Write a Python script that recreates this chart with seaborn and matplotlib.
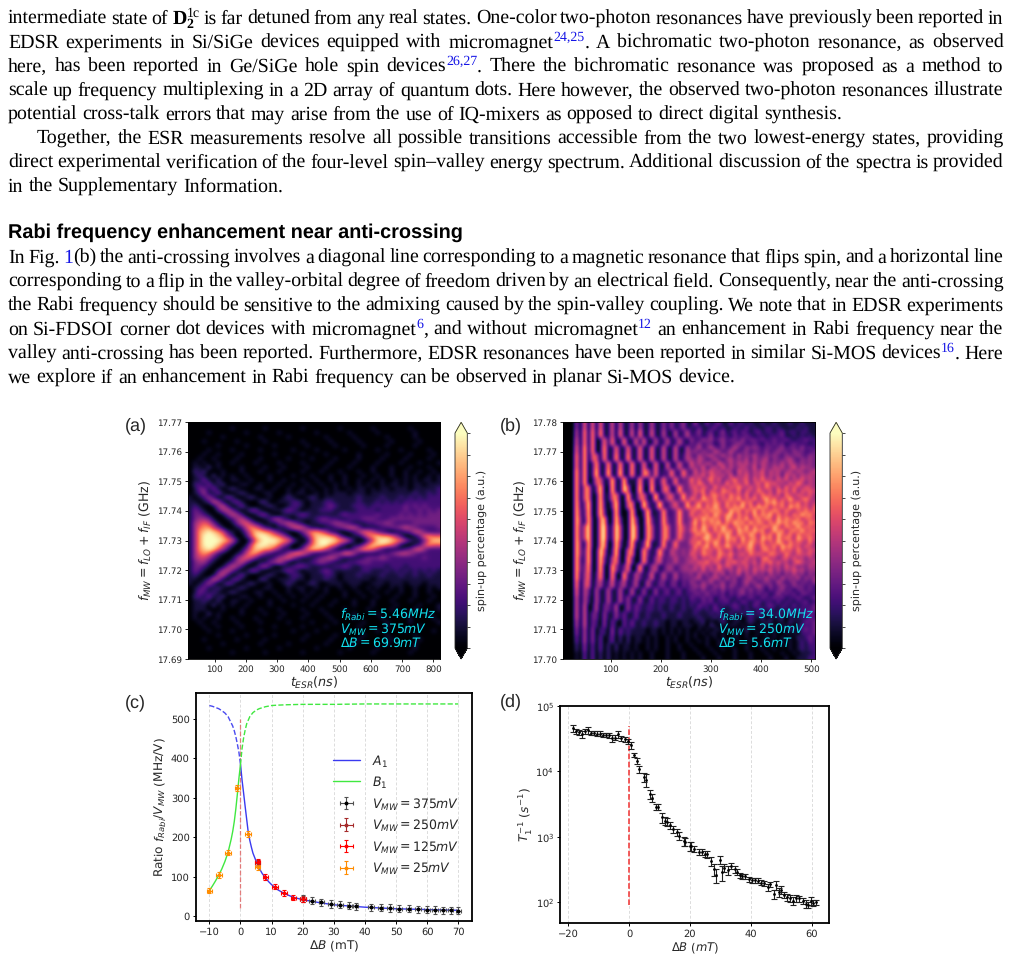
import re
import numpy as np
import matplotlib
matplotlib.use("Agg")
import matplotlib.pyplot as plt
import seaborn as sns

W, H = 1011, 961
sns.set_style("white")
plt.rcParams["font.family"] = ["DejaVu Sans"]
plt.rcParams["mathtext.fontset"] = "dejavusans"
plt.rcParams["text.hinting"] = "no_hinting"

# ---- Page text -------------------------------------------------------------
BLUE = "#1414e6"
PLAIN, SUP, SUB_BOLD, BOLD = "plain", "sup", "subbold", "bold"
body_lines = [
    (23.5, 8, True, [(r"intermediate state of ", PLAIN), ("D", BOLD), ("2", SUB_BOLD), ("1c", SUP),
                   (" is far detuned from any real states. One-color two-photon resonances have previously been reported in", PLAIN)]),
    (47.5, 8, True, [("EDSR experiments in Si/SiGe devices equipped with micromagnet", PLAIN), ("24,25", SUP),
                   (". A bichromatic two-photon resonance, as observed", PLAIN)]),
    (71.5, 8, True, [("here, has been reported in Ge/SiGe hole spin devices", PLAIN), ("26,27", SUP),
                   (". There the bichromatic resonance was proposed as a method to", PLAIN)]),
    (95.5, 8, True, [("scale up frequency multiplexing in a 2D array of quantum dots. Here however, the observed two-photon resonances illustrate", PLAIN)]),
    (119.5, 8, False, [("potential cross-talk errors that may arise from the use of IQ-mixers as opposed to direct digital synthesis.", PLAIN)]),
    (143.5, 37, True, [("Together, the ESR measurements resolve all possible transitions accessible from the two lowest-energy states, providing", PLAIN)]),
    (167.5, 8, True, [("direct experimental verification of the four-level spin\u2013valley energy spectrum. Additional discussion of the spectra is provided", PLAIN)]),
    (191.5, 8, False, [("in the Supplementary Information.", PLAIN)]),
    (263, 8, True, [("In Fig. ", PLAIN), ("1", "link"), ("(b) the anti-crossing involves a diagonal line corresponding to a magnetic resonance that flips spin, and a horizontal line", PLAIN)]),
    (287, 8, True, [("corresponding to a flip in the valley-orbital degree of freedom driven by an electrical field. Consequently, near the anti-crossing", PLAIN)]),
    (311, 8, True, [("the Rabi frequency should be sensitive to the admixing caused by the spin-valley coupling. We note that in EDSR experiments", PLAIN)]),
    (335, 8, True, [("on Si-FDSOI corner dot devices with micromagnet", PLAIN), ("6", SUP), (", and without micromagnet", PLAIN), ("12", SUP),
                    (" an enhancement in Rabi frequency near the", PLAIN)]),
    (359, 8, True, [("valley anti-crossing has been reported. Furthermore, EDSR resonances have been reported in similar Si-MOS devices", PLAIN), ("16", SUP),
                    (". Here", PLAIN)]),
    (383, 8, False, [("we explore if an enhancement in Rabi frequency can be observed in planar Si-MOS device.", PLAIN)]),
]
section_title = "Rabi frequency enhancement near anti-crossing"

# ---- Panel (a): spin-up map, one digit per cell, top row = highest frequency --
rabi_a_rows = [
    "000000000000000000000000000000000000000000000000000000",
    "000000000100000010000000100000001000000100000001000000",
    "000010000000100000010000000100000010000010000000100000",
    "000000010000000100000100000001000001000000100000100000",
    "000100000010000010000000100000100000100000010000010000",
    "000000100000100000100000010000010000010000100000100000",
    "000010000100000100000010000100000100000010000100000100",
    "000100100001000000100000100001000000100000100001000010",
    "001001000010000100000100001000010000100001000010000100",
    "010100100100001000010000100000100001000010000100010001",
    "011020100001000010001000010001000010000100010001000100",
    "021200010001000100010000100010001000100100010010010010",
    "012102010100100001000010001000100100010010010010100101",
    "011310200110010001001000100100100100100101001010101101",
    "022131120001100100010010010010010100101001011010110111",
    "013313101210001100100100101001010010110101101110111112",
    "012411310012100011000101100101011101110111111111211212",
    "101242013200121001001210012101111111211112111212121222",
    "110125410231000220011122101112211111211121212122222222",
    "121001452013100012100122101112321112221222222232323222",
    "132100245310133100112321011122211111222212222232232323",
    "133210013542001331001112321111112322222232222323232333",
    "134431001245310012442101111233221122233322233333333333",
    "145653100135642101134542101122344321112233432222333333",
    "146775310012576421011356531101123455311112233454322223",
    "147898752101368876421001357764210012466532101123553222",
    "147999874200258998764200136888763101136787764200136766",
    "147999987520026899987631015899987641002589987642113688",
    "147999864200158998864200136899763101136888764100125766",
    "147898642001368877531101368875310113577642111123564222",
    "146764210012577532112467642111234664211112234554322222",
    "145542100135653111245642111234542111123334322222223222",
    "134421001245310113453101112343211122333222222222222222",
    "133210013542001342001123321111122321122222122212222222",
    "132100245310133100112321011123211111122111212121212121",
    "121001452013100012100122101112210111211112111211211211",
    "110125410231000220011121101112110111111011111111111111",
    "101242013200121001001210012100111011100111011101110111",
    "012311210012100011000101100101001001001010010100100101",
    "013212101210001100100100101001000100100100100100100100",
    "022131120001100100010010010010000100010010001000100010",
    "011210200110010001001000100100010001000100010001000100",
    "011102010100100001000010001000100001000100001000010001",
    "011100010001000100010000100010000100001000010000100001",
    "010020100001000010001000010001000001000010000010000100",
    "010100100100001000010000100000100001000001000001000010",
    "001001000010000100000100001000010000010000100001000001",
    "000100100001000000100000100001000000100000100000010000",
    "000010000100000100000010000100000100000010000010000010",
    "000000100000100000100000010000010000010000100000100000",
    "000100000010000010000000100000100000100000010000010000",
    "000000010000000100000100000001000001000000100000100000",
    "000010000000100000010000000100000010000010000000100000",
    "000000000100000010000000100000001000000100000001000000",
    "000000000000000000000000000000000000000000000000000000",
]

# ---- Panel (b): fringes on the left (each row spans two right-hand rows) ------
rabi_b_left = [
    "00040707071160611505115114141241",
    "00050808081160711607116115115125",
    "00060808017171171161611512512521",
    "00070908018117117117117116116115",
    "00080906608118118117117116116125",
    "00080902811811811811711711612622",
    "00090902911911911811761712272273",
    "00090901661191191118118127227233",
    "00090670391091195019109116612833",
    "00090670191167109116611912562383",
    "00091390192039106701931292246338",
    "00092290193019101910291128223833",
    "00093191078019301940193128323833",
    "00092591079129501960185127623753",
    "00092591079129501960185127623743",
    "00093191078019302911391128237333",
    "00093290195029106701831283254343",
    "00092290193057108301821462335334",
    "00092380191084137018114512442344",
    "00091470281081082153126125225233",
    "00080560351261351251152133133132",
    "00070530511511511511411412312312",
    "00060520511511514114113122122121",
    "00060601503315014132122121121121",
    "00060603304114131131121112111211",
    "00050603204031031311211211011011",
    "00040504022040312111101101010101",
    "00030504030130202011010100101001",
    "00020403030202011010010100100100",
    "00010303020201010101001000100010",
]
# Speckled region at long pulse times
rabi_b_right = [
    "14113123113122121121121112112111", "21311231211221312112212111121211",
    "12412312412313212312212312212211", "22312412321322321221222311212121",
    "42243423423324233232232232122322", "32423312422343223213232312322212",
    "23523532423532434323323423324232", "34243254235323423324234332433223",
    "32534533534253435334343243343243", "43542353245343525345243345324343",
    "63535426435354535354343535434343", "54362453635345436254354534635443",
    "26354645354264535463545345354345", "35463654536254635463545264535454",
    "74635746345745636474536463546454", "64753645374654735647564536475354",
    "56465374646575464647546374654654", "46573654765473654754637564736565",
    "46374675647564736475646375465464", "75486574657584657468574658546754",
    "35746576475648573647685746574645", "56847586475768475867465748675646",
    "66475767548674758475676475465756", "74657486578475648576847564758675",
    "47586766486575846757648576574665", "58475768475867485764758675867476",
    "57486575864675847567586476585665", "67586475867486758674586746758566",
    "46758647586476586475748657475665", "56478657486748567486748576486575",
    "65847586475647586574658647565474", "47568476586475685476574867564654",
    "56475647546354675467564756475465", "65476547657456475654765475465564",
    "46354657456354645367453564645354", "54657465365746546365746453575445",
    "35464537465354635463545364534354", "45363546435364536454635354645344",
    "42534253524362535342534243534243", "34523454253423452435342534352434",
    "43243523423423534234325323423324", "34353243524323423532423432433232",
    "33242332423234242331323423133232", "23324232313234232323124232313322",
    "32232312322131232132232312232123", "22132312231213212312213122122312",
    "21322131212321213212321221312223", "12212132111221211221211212122223",
    "12111212112112131211212113112232", "11211121201110121120111201112132",
    "01120101210110121011201102111323", "10110210101101010111010111012223",
    "00101011010010201010110102112323", "01010110100110100101010010102223",
    "01001010100100101001010101021232", "00101001010010010010100101012132",
    "10001001001000100100100101012122", "01000100100100100010010001012122",
    "00100010000100010001000100101112", "00010001000100010000100010011122",
]
rabi_b_rows = [rabi_b_left[i // 2] + rabi_b_right[i] for i in range(len(rabi_b_right))]

# ---- Panel (c): Rabi ratio against detuning --------------------------------
a1_solid_x = [0, 0.5, 1, 1.5, 2, 2.5, 3, 3.5, 4, 5, 6, 7, 8, 9, 10, 12, 14, 17, 20, 25, 30, 35, 40, 50, 60, 70]
a1_solid_y = [385, 345, 312, 278, 245, 212, 192, 175, 160, 140, 122, 108, 98, 88, 80, 67, 58, 48, 42, 35, 29, 26, 23, 19, 17, 15]
a1_dash_x = [-10, -9, -8, -7, -6, -5, -4, -3, -2.5, -2, -1.5, -1, -0.5, 0]
a1_dash_y = [534, 532, 529, 526, 521, 515, 506, 490, 482, 470, 455, 436, 415, 385]
b1_solid_x = [-10, -9, -8, -7, -6, -5, -4, -3, -2.5, -2, -1.5, -1, -0.5, 0]
b1_solid_y = [65, 77, 90, 104, 120, 139, 162, 195, 215, 240, 272, 310, 350, 385]
b1_dash_x = [0, 0.5, 1, 1.5, 2, 3, 4, 5, 6, 8, 10, 12, 15, 20, 30, 40, 55, 70]
b1_dash_y = [385, 425, 452, 472, 488, 506, 516, 522, 526, 531, 534, 535, 536, 537, 537, 538, 538, 538]

v375_x = [20, 23, 26, 29, 32, 35, 37, 42, 45, 48, 51, 54, 57, 60, 62.5, 65, 67.5, 70]
v375_y = [44, 39, 35, 31, 29, 27, 25, 23, 22, 21, 19, 19, 18, 17, 16, 15.5, 15, 14]
v250_x = [5.5, 20]
v250_y = [135, 43]
v125_x = [5.5, 8, 11, 14, 17, 20]
v125_y = [138, 100, 75, 59, 47, 43]
v25_x = [-10, -7, -4, -1, 2.5, 5.5]
v25_y = [65, 104, 161, 325, 209, 124]
c_xticks = [-10, 0, 10, 20, 30, 40, 50, 60, 70]
c_yticks = [0, 100, 200, 300, 400, 500]

# ---- Panel (d): relaxation rate against detuning ---------------------------
t1_x = [-18.5, -17.5, -16.5, -15.5, -14.5, -13.5, -12.5, -11.5, -10.5, -9.5, -8.5, -7.5, -6.5, -5.5, -4.5, -3.5, -2.5, -1.5, -0.5, 0.5,
        1.7, 2.6, 3.4, 4.9, 5.4, 6.8, 7.4, 9, 9.5, 10.7, 11.8, 12.5, 13.5, 14.5, 15.7, 16.5, 18, 18.5, 20, 20.5, 21.5, 23, 24, 25, 25.5,
        26.8, 27.8, 28.5, 29.8, 30.7, 31.3, 32.5, 33.5, 34.7, 35.5, 36.3, 37, 38, 39.5, 40.5, 41.5, 42.5, 43.5, 44.5, 45.5, 46.3, 47.5,
        48.2, 49.2, 50, 51, 52, 53, 54, 55, 56, 57, 58, 58.8, 59.7, 60.5, 61.3]
t1_y = [46000, 41000, 40000, 37000, 41000, 43000, 39000, 39000, 38000, 38000, 36000, 36000, 36000, 32000, 33000, 37000, 32000, 31000, 29000, 25000,
        18000, 14300, 10800, 8300, 7500, 4500, 4000, 2900, 2900, 2000, 1750, 1700, 1500, 1300, 1170, 1050, 870, 850, 720, 730, 650, 590, 590, 550, 550,
        430, 320, 260, 450, 290, 340, 310, 360, 320, 290, 260, 250, 250, 225, 220, 220, 215, 200, 195, 170, 190, 135,
        185, 145, 155, 130, 120, 115, 105, 115, 115, 105, 95, 92, 105, 97, 100]
t1_err = [6000, 4000, 3500, 4000, 3500, 5000, 3000, 3000, 3000, 3500, 2500, 2500, 3000, 3500, 2500, 5000, 3000, 3000, 2500, 3000,
          1200, 1500, 1300, 1300, 1800, 700, 600, 280, 280, 350, 250, 250, 180, 150, 130, 140, 140, 130, 120, 120, 70, 60, 60, 60, 70,
          70, 70, 65, 70, 75, 50, 45, 40, 35, 30, 25, 25, 25, 20, 20, 20, 18, 18, 18, 20, 18, 22,
          30, 22, 22, 14, 14, 14, 14, 13, 12, 12, 12, 10, 14, 10, 10]
d_xticks = [-20, 0, 20, 40, 60]
d_yticks = [1e2, 1e3, 1e4, 1e5]

annot_a = [r"$f_{Rabi}=5.46MHz$", r"$V_{MW}=375mV$", r"$\Delta B=69.9mT$"]
annot_b = [r"$f_{Rabi}=34.0MHz$", r"$V_{MW}=250mV$", r"$\Delta B=5.6mT$"]


def digits_to_array(rows):
    width = max(len(r) for r in rows)
    return np.array([[int(ch) for ch in r.ljust(width, "0")] for r in rows]) / 9.0


def box(left, top, right, bottom):
    """Axes rectangle given in pixels from the top-left corner of the page."""
    return [left / W, 1 - bottom / H, (right - left) / W, (bottom - top) / H]


fig = plt.figure(figsize=(W / 100, H / 100), dpi=100, facecolor="white")
renderer = fig.canvas.get_renderer()
SERIF = "Liberation Serif"
BODY_PT = 14.3


def run_style(kind):
    if kind == PLAIN:
        return dict(fontsize=BODY_PT, family=SERIF, color="black"), 0
    if kind == "link":
        return dict(fontsize=BODY_PT, family=SERIF, color=BLUE), 0
    if kind == BOLD:
        return dict(fontsize=BODY_PT, family=SERIF, color="black", weight="bold"), 0
    if kind == SUB_BOLD:
        return dict(fontsize=BODY_PT * 0.7, family=SERIF, color="black", weight="bold"), 5
    return dict(fontsize=BODY_PT * 0.7, family=SERIF, color=BLUE), -7


def draw_line(baseline, x0, justify, runs, right=1003.5):
    tokens = []
    for text, kind in runs:
        for piece in re.findall(r"\s+|\S+", text):
            tokens.append((piece, kind))
    placed = []
    total = 0.0
    gaps = 0
    for piece, kind in tokens:
        if piece.isspace():
            placed.append(None)
            gaps += 1
            continue
        style, rise = run_style(kind)
        if piece == "1c":
            style = dict(style, color="black")
        t = fig.text(0, 0, piece, va="baseline", ha="left", **style)
        width = t.get_window_extent(renderer).width
        placed.append((t, width, rise, kind))
        if kind != SUB_BOLD:
            total += width
    natural = BODY_PT * 100 / 72 * 0.25
    gap = (right - x0 - total) / gaps if justify and gaps else natural
    x = x0
    for item in placed:
        if item is None:
            x += gap
            continue
        t, width, rise, kind = item
        t.set_position((x / W, 1 - (baseline + rise) / H))
        if kind != SUB_BOLD:
            x += width


for baseline, x0, justify, runs in body_lines:
    draw_line(baseline, x0, justify, runs)
fig.text(8 / W, 1 - 238 / H, section_title, family="Liberation Sans", weight="bold",
         fontsize=14.3, va="baseline", ha="left", color="black")

for label, px, py in [("(a)", 125, 430), ("(b)", 500, 430), ("(c)", 125, 707), ("(d)", 500, 706)]:
    fig.text(px / W, 1 - py / H, label, family="Liberation Sans", fontsize=13, va="baseline", ha="left")

TICK_PT = 6.3
magma = sns.color_palette("magma", as_cmap=True)


def heat_panel(rows, rect, cbar_rect, xlim, ylim, xticks, yticks, annot, annot_x):
    ax = fig.add_axes(box(*rect))
    im = ax.imshow(digits_to_array(rows), cmap=magma, vmin=0, vmax=1, aspect="auto",
                   extent=[xlim[0], xlim[1], ylim[0], ylim[1]], origin="upper",
                   interpolation="bicubic", interpolation_stage="data")
    ax.set_xticks(xticks)
    ax.set_yticks(yticks)
    ax.set_yticklabels([f"{v:.2f}" for v in yticks])
    ax.tick_params(labelsize=TICK_PT, length=2, width=0.6, pad=2, color="black", left=True, bottom=True)
    ax.set_xlabel(r"$t_{ESR}(ns)$", fontsize=9.2, labelpad=1)
    ax.set_ylabel(r"$f_{MW}=f_{LO}+f_{IF}$ (GHz)", fontsize=9, labelpad=2)
    for s in ax.spines.values():
        s.set_linewidth(0.6)
        s.set_color("black")
    for text, py in zip(annot, [615, 629, 643]):
        fig.text(annot_x / W, 1 - py / H, text, color="#12e0ee", fontsize=9, va="center", ha="left")
    cax = fig.add_axes(box(*cbar_rect))
    cb = fig.colorbar(im, cax=cax, extend="both", extendfrac=0.05)
    cb.set_ticks(np.arange(0, 1.01, 0.1))
    cb.set_ticklabels([])
    cb.ax.tick_params(length=2, width=0.5, color="black", right=True)
    cb.outline.set_linewidth(0.6)
    cb.set_label("spin-up percentage (a.u.)", fontsize=8, labelpad=1)
    return ax


heat_panel(rabi_a_rows, (187.7, 422.3, 440, 659), (455, 422.3, 467.3, 659),
           (14, 821), (17.69, 17.77), [100, 200, 300, 400, 500, 600, 700, 800],
           [17.69, 17.70, 17.71, 17.72, 17.73, 17.74, 17.75, 17.76, 17.77], annot_a, 340)
heat_panel(rabi_b_rows, (562.7, 422.3, 815, 659), (830, 422.3, 842.3, 659),
           (4, 507), (17.70, 17.78), [100, 200, 300, 400, 500],
           [17.70, 17.71, 17.72, 17.73, 17.74, 17.75, 17.76, 17.77, 17.78], annot_b, 718)

# ---- Panel (c) ------------------------------------------------------------
ax_c = fig.add_axes(box(196, 693.3, 471.7, 921))
ax_c.set_xlim(-14.3, 74.3)
ax_c.set_ylim(-12, 565)
for xv in c_xticks:
    ax_c.axvline(xv, color="#dcdcdc", lw=0.7, ls=(0, (3, 2)), zorder=0)
ax_c.vlines(0, 20, 500, color="#e06060", lw=0.9, ls="--", alpha=0.8, zorder=1)
sns.lineplot(x=a1_solid_x, y=a1_solid_y, ax=ax_c, color="#3a3af0", lw=1.0, sort=False, estimator=None, label=r"$A_1$", zorder=2)
sns.lineplot(x=b1_solid_x, y=b1_solid_y, ax=ax_c, color="#40e840", lw=1.0, sort=False, estimator=None, label=r"$B_1$", zorder=2)
sns.lineplot(x=a1_dash_x, y=a1_dash_y, ax=ax_c, color="#4a4af0", lw=1.0, ls="--", sort=False, estimator=None, zorder=2)
sns.lineplot(x=b1_dash_x, y=b1_dash_y, ax=ax_c, color="#40e840", lw=1.0, ls="--", sort=False, estimator=None, zorder=2)
err_kw = dict(fmt="o", ms=1.8, elinewidth=0.8, capsize=1.5, capthick=0.8, zorder=3)
ax_c.errorbar(v375_x, v375_y, yerr=9, xerr=0.9, color="black", ecolor="#505050", label=r"$V_{MW}=375mV$", **err_kw)
ax_c.errorbar(v250_x, v250_y, yerr=8, xerr=0.9, color="brown", ecolor="brown", label=r"$V_{MW}=250mV$", **err_kw)
ax_c.errorbar(v125_x, v125_y, yerr=7, xerr=0.9, color="red", ecolor="red", label=r"$V_{MW}=125mV$", **err_kw)
ax_c.errorbar(v25_x, v25_y, yerr=7, xerr=0.9, color="darkorange", ecolor="darkorange", label=r"$V_{MW}=25mV$", **err_kw)
ax_c.set_xticks(c_xticks)
ax_c.set_yticks(c_yticks)
ax_c.tick_params(labelsize=7.1, length=2.5, width=0.7, pad=2, left=True, bottom=True, color="black")
ax_c.set_xlabel(r"$\Delta B$ (mT)", fontsize=8.7, labelpad=1)
ax_c.set_ylabel(r"Ratio $f_{Rabi}/V_{MW}$ (MHz/V)", fontsize=8.7, labelpad=2)
for s in ax_c.spines.values():
    s.set_linewidth(1.3)
    s.set_color("black")
ax_c.legend(loc="upper left", bbox_to_anchor=(333 / W, 1 - 753 / H), bbox_transform=fig.transFigure,
            frameon=False, fontsize=9, labelspacing=0.46, handlelength=2.15, handletextpad=1.0,
            borderpad=0, borderaxespad=0)

# ---- Panel (d) ------------------------------------------------------------
ax_d = fig.add_axes(box(560.3, 706, 829, 922.7))
ax_d.set_yscale("log")
ax_d.set_xlim(-22.6, 65.7)
ax_d.set_ylim(49, 1e5)
for xv in d_xticks:
    ax_d.axvline(xv, color="#dcdcdc", lw=0.7, ls=(0, (3, 2)), zorder=0)
ax_d.vlines(0, 90, 50000, color="#f03030", lw=1.1, ls="--", zorder=1)
ax_d.errorbar(t1_x, t1_y, yerr=t1_err, fmt="none", ecolor="#202020", elinewidth=0.8, capsize=2.2, capthick=0.8, zorder=3)
sns.scatterplot(x=t1_x, y=t1_y, ax=ax_d, color="black", s=4, linewidth=0, zorder=4)
ax_d.set_xticks(d_xticks)
ax_d.set_yticks(d_yticks)
ax_d.minorticks_off()
ax_d.tick_params(labelsize=7.1, length=2.5, width=0.7, pad=2, left=True, bottom=True, color="black")
ax_d.set_xlabel(r"$\Delta B$ ($mT$)", fontsize=8.4, labelpad=1)
ax_d.set_ylabel(r"$T_1^{-1}$ ($s^{-1}$)", fontsize=8.7, labelpad=1)
for s in ax_d.spines.values():
    s.set_linewidth(1.3)
    s.set_color("black")

fig.savefig("out.png", dpi=100, facecolor="white")
